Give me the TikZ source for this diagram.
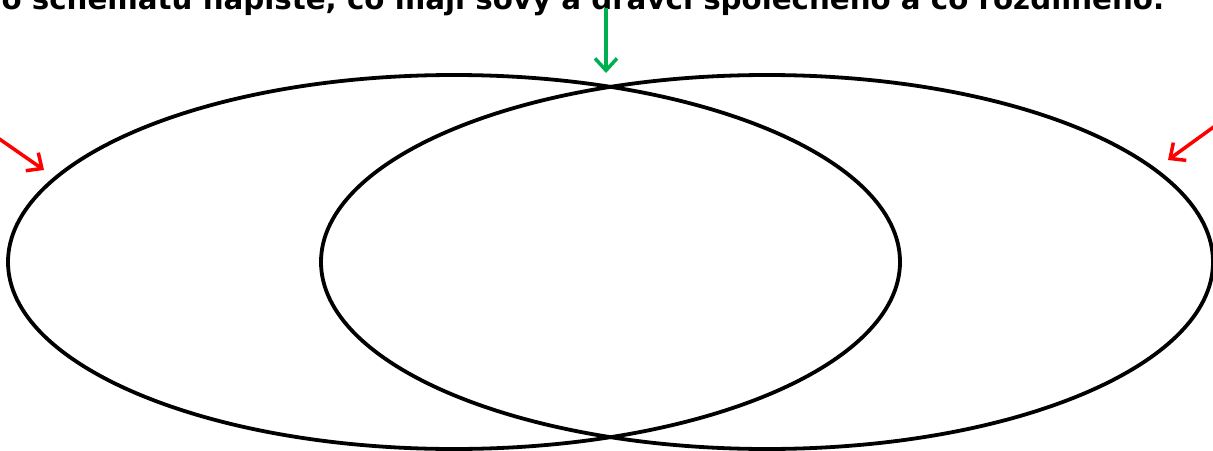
\documentclass[tikz,border=0pt]{standalone}
\usepackage{fontspec}
\setmainfont{DejaVu Sans}
\definecolor{ArrowGreen}{HTML}{00B050}
\definecolor{ArrowRed}{HTML}{FF0000}
\usetikzlibrary{arrows.meta,positioning,shapes.geometric}

\begin{document}
\begin{tikzpicture}[x=1pt,y=-1pt,
oval/.style={draw=black,ellipse,line width=3.8pt,minimum width=892pt,minimum height=374pt,inner sep=0pt},
task/.style={font=\fontsize{29.3}{32}\selectfont\bfseries,anchor=base west,inner sep=0pt},
arr/.style={-{Straight Barb[length=12pt,width=22pt,line width=3.5pt]},line width=3.5pt}
]
\useasboundingbox (0,0) rectangle (1213,450);
\clip (0,0) rectangle (1213,450);
\node[task] (title) at (-23,9) {Do schématu napište, co mají sovy a dravci společného a co rozdílného.};
\node[oval] (owls) at (454,262) {};
\node[oval] (raptors) at (767,262) {};
\coordinate (gtail) at (606,8);
\coordinate (ghead) at (606,73);
\coordinate (ltail) at (-2,138);
\coordinate (lhead) at (44,170);
\coordinate (rtail) at (1215,126);
\coordinate (rhead) at (1168,160);
\draw[arr,draw=ArrowGreen] (gtail) -- (ghead);
\draw[arr,draw=ArrowRed] (ltail) -- (lhead);
\draw[arr,draw=ArrowRed] (rtail) -- (rhead);
\end{tikzpicture}
\end{document}
